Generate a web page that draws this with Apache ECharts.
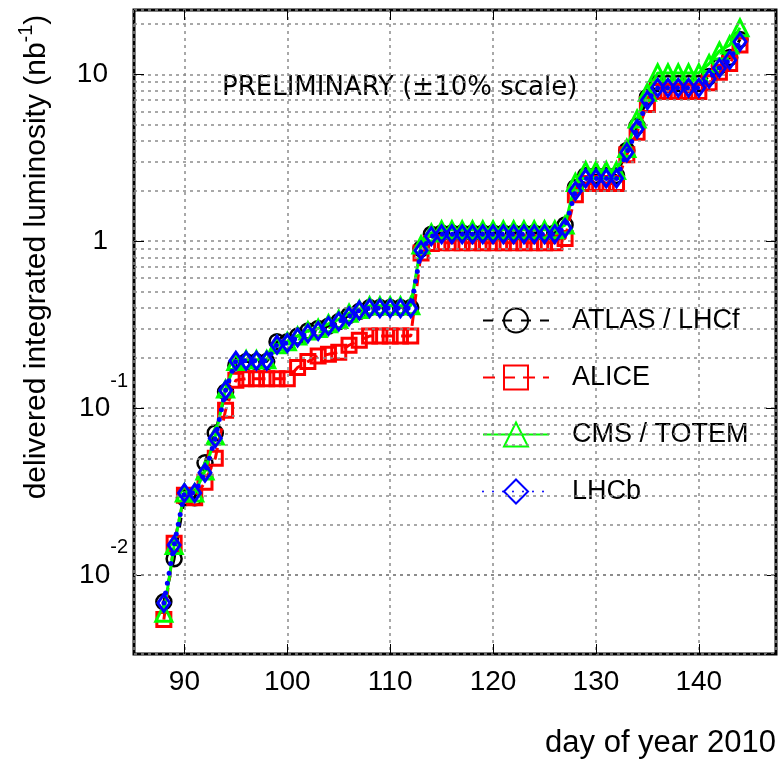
<!DOCTYPE html>
<html>
<head>
<meta charset="utf-8">
<script src="https://cdn.jsdelivr.net/npm/echarts@6/dist/echarts.min.js"></script>
<style>
  html, body { margin: 0; padding: 0; background: #fff; }
  #chart { width: 780px; height: 762px; }
</style>
</head>
<body>
<div id="chart"></div>
<script>
// day of year 2010
const days = [88, 89, 90, 91, 92, 93, 94, 95, 96, 97, 98, 99, 100, 101, 102, 103, 104, 105, 106, 107,
  108, 109, 110, 111, 112, 113, 114, 115, 116, 117, 118, 119, 120, 121, 122, 123, 124, 125, 126, 127,
  128, 129, 130, 131, 132, 133, 134, 135, 136, 137, 138, 139, 140, 141, 142, 143, 144]

// delivered integrated luminosity, nb^-1
const atlas = [0.0069, 0.0125, 0.029, 0.029, 0.047, 0.071, 0.125, 0.18, 0.19, 0.19, 0.19, 0.25, 0.25, 0.27, 0.29, 0.30, 0.31, 0.33, 0.36, 0.38,
  0.40, 0.40, 0.40, 0.40, 0.40, 0.90, 1.10, 1.12, 1.12, 1.12, 1.12, 1.12, 1.12, 1.12, 1.12, 1.12, 1.12, 1.12, 1.12, 1.25,
  2.1, 2.48, 2.48, 2.48, 2.48, 3.5, 4.9, 7.3, 8.8, 8.8, 8.8, 8.8, 8.8, 9.7, 11.2, 12.6, 16.2]
const alice = [0.0054, 0.0155, 0.030, 0.029, 0.036, 0.050, 0.097, 0.147, 0.15, 0.15, 0.15, 0.15, 0.15, 0.175, 0.19, 0.205, 0.21, 0.216, 0.238, 0.255,
  0.27, 0.27, 0.27, 0.27, 0.27, 0.85, 0.97, 0.98, 0.98, 0.98, 0.98, 0.98, 0.98, 0.98, 0.98, 0.98, 0.98, 0.98, 0.98, 1.04,
  1.9, 2.22, 2.22, 2.22, 2.22, 3.3, 4.5, 6.6, 7.9, 7.9, 7.9, 7.9, 7.9, 8.9, 10.3, 11.6, 15.0]
const cms = [0.0059, 0.015, 0.031, 0.031, 0.042, 0.068, 0.13, 0.19, 0.195, 0.195, 0.195, 0.24, 0.25, 0.27, 0.29, 0.30, 0.32, 0.34, 0.37, 0.39,
  0.41, 0.41, 0.41, 0.41, 0.41, 0.95, 1.12, 1.17, 1.17, 1.17, 1.17, 1.17, 1.17, 1.17, 1.17, 1.17, 1.17, 1.17, 1.17, 1.25,
  2.25, 2.65, 2.65, 2.65, 2.65, 3.6, 5.4, 7.8, 10.2, 10.2, 10.2, 10.2, 10.2, 11.6, 13.8, 15.0, 19.0]
const lhcb = [0.0068, 0.0151, 0.031, 0.031, 0.041, 0.066, 0.128, 0.192, 0.192, 0.192, 0.192, 0.24, 0.245, 0.265, 0.28, 0.29, 0.31, 0.33, 0.355, 0.385,
  0.397, 0.397, 0.397, 0.397, 0.397, 0.88, 1.07, 1.1, 1.1, 1.1, 1.1, 1.1, 1.1, 1.1, 1.1, 1.1, 1.1, 1.1, 1.1, 1.2,
  2.0, 2.38, 2.38, 2.38, 2.38, 3.4, 4.7, 7.0, 8.3, 8.3, 8.3, 8.3, 8.3, 9.4, 10.9, 12.2, 15.7]

const xRange = [85.1, 147.5]
const yRange = [0.00336, 24.3]

// 2..9 x each decade, drawn as dotted minor grid lines
const minorGrid = []
for (let e = -3; e <= 1; e++) {
  for (let k = 2; k <= 9; k++) {
    const v = k * Math.pow(10, e)
    if (v > yRange[0] && v < yRange[1]) minorGrid.push(+v.toPrecision(3))
  }
}

const font = "'Liberation Sans', Arial, sans-serif"
const gridLine = { type: [3, 4], color: '#8c8c8c', width: 1.5 }

const pairs = (vals) => days.map((d, i) => [d, vals[i]])

const chart = echarts.init(document.getElementById('chart'))

const option = {
  animation: false,
  backgroundColor: '#fff',
  textStyle: { fontFamily: font, color: '#000' },
  grid: {
    left: 134, top: 10, width: 642, height: 644,
    show: true, borderColor: '#000', borderWidth: 3
  },
  legend: {
    orient: 'vertical',
    left: 477, top: 302,
    itemWidth: 66, itemHeight: 30, itemGap: 30,
    data: ['ATLAS / LHCf', 'ALICE', 'CMS / TOTEM', 'LHCb'],
    textStyle: { fontSize: 27, color: '#000', fontFamily: font, padding: [0, 0, 0, 18] }
  },
  xAxis: [{
    type: 'value', min: xRange[0], max: xRange[1],
    axisLine: { show: false },
    axisTick: { inside: true, length: 10, lineStyle: { color: '#000', width: 1 } },
    axisLabel: {
      fontSize: 28, margin: 14, color: '#000', fontFamily: font,
      showMinLabel: false, showMaxLabel: false,
      formatter: v => (v % 10 === 0 ? String(v) : '')
    },
    splitLine: { show: true, lineStyle: gridLine }
  }, {
    type: 'value', position: 'top', min: xRange[0], max: xRange[1],
    axisLine: { show: false },
    axisTick: { inside: true, length: 10, lineStyle: { color: '#000', width: 1 } },
    axisLabel: { show: false },
    splitLine: { show: false }
  }],
  yAxis: [{
    type: 'log', logBase: 10, min: yRange[0], max: yRange[1],
    axisLine: { show: false },
    axisTick: { inside: true, length: 10, lineStyle: { color: '#000', width: 1 } },
    axisLabel: {
      margin: 6, color: '#000',
      showMinLabel: false, showMaxLabel: false,
      formatter: v => {
        const e = Math.round(Math.log10(v))
        if (e >= 0) return '{p|' + Math.pow(10, e) + '}'
        return '{b|10}{sup|' + e + '}'
      },
      rich: {
        p: { fontSize: 28, fontFamily: font, color: '#000', padding: [0, 20, 0, 0] },
        b: { fontSize: 28, fontFamily: font, color: '#000' },
        sup: { fontSize: 20, fontFamily: font, color: '#000', padding: [0, 0, 54, 0] }
      }
    },
    splitLine: { show: true, lineStyle: gridLine }
  }, {
    type: 'log', logBase: 10, min: yRange[0], max: yRange[1], position: 'right',
    axisLine: { show: false },
    axisTick: { inside: true, length: 10, lineStyle: { color: '#000', width: 1 } },
    axisLabel: { show: false },
    splitLine: { show: false }
  }],
  graphic: [{
    type: 'text', left: 222, top: 75,
    style: { text: 'PRELIMINARY (±10% scale)', fontSize: 26, fontFamily: "'DejaVu Sans', sans-serif", fill: '#000' }
  }, {
    type: 'text', x: 37, y: 257, rotation: Math.PI / 2,
    style: {
      text: 'delivered integrated luminosity (nb{sup|-1})',
      fontSize: 30, fontFamily: font, fill: '#000',
      align: 'center', verticalAlign: 'middle',
      rich: { sup: { fontSize: 20, fontFamily: font, fill: '#000', padding: [0, 0, 22, 0] } }
    }
  }, {
    type: 'text', x: 776, y: 743,
    style: { text: 'day of year 2010', fontSize: 31, fontFamily: font, fill: '#000', align: 'right', verticalAlign: 'middle' }
  }],
  series: [{
    name: 'minor grid',
    type: 'line', z: 1, silent: true,
    data: [[100, 1]], showSymbol: false, lineStyle: { opacity: 0 },
    markLine: {
      silent: true, symbol: ['none', 'none'], animation: false,
      label: { show: false },
      lineStyle: gridLine,
      data: minorGrid.map(v => ({ yAxis: v }))
    }
  }, {
    name: 'ATLAS / LHCf', type: 'line', z: 2,
    data: pairs(atlas),
    symbol: 'circle', symbolSize: 15,
    itemStyle: { color: 'rgba(0,0,0,0)', borderColor: '#000', borderWidth: 2.5 },
    lineStyle: { color: '#000', width: 3, type: [10, 9] }
  }, {
    name: 'ALICE', type: 'line', z: 3,
    data: pairs(alice),
    symbol: 'rect', symbolSize: 14,
    itemStyle: { color: 'rgba(0,0,0,0)', borderColor: '#ff0000', borderWidth: 3 },
    lineStyle: { color: '#ff0000', width: 3, type: [12, 8] }
  }, {
    name: 'CMS / TOTEM', type: 'line', z: 4,
    data: pairs(cms),
    symbol: 'triangle', symbolSize: 16,
    itemStyle: { color: 'rgba(0,0,0,0)', borderColor: '#00ff00', borderWidth: 3 },
    lineStyle: { color: '#00ff00', width: 3 }
  }, {
    name: 'LHCb', type: 'line', z: 5,
    data: pairs(lhcb),
    symbol: 'diamond', symbolSize: [12, 17],
    itemStyle: { color: 'rgba(0,0,0,0)', borderColor: '#0000ff', borderWidth: 3 },
    lineStyle: { color: '#0000ff', width: 5, type: [0, 10], cap: 'round' }
  }]
}

chart.setOption(option)
</script>
</body>
</html>
